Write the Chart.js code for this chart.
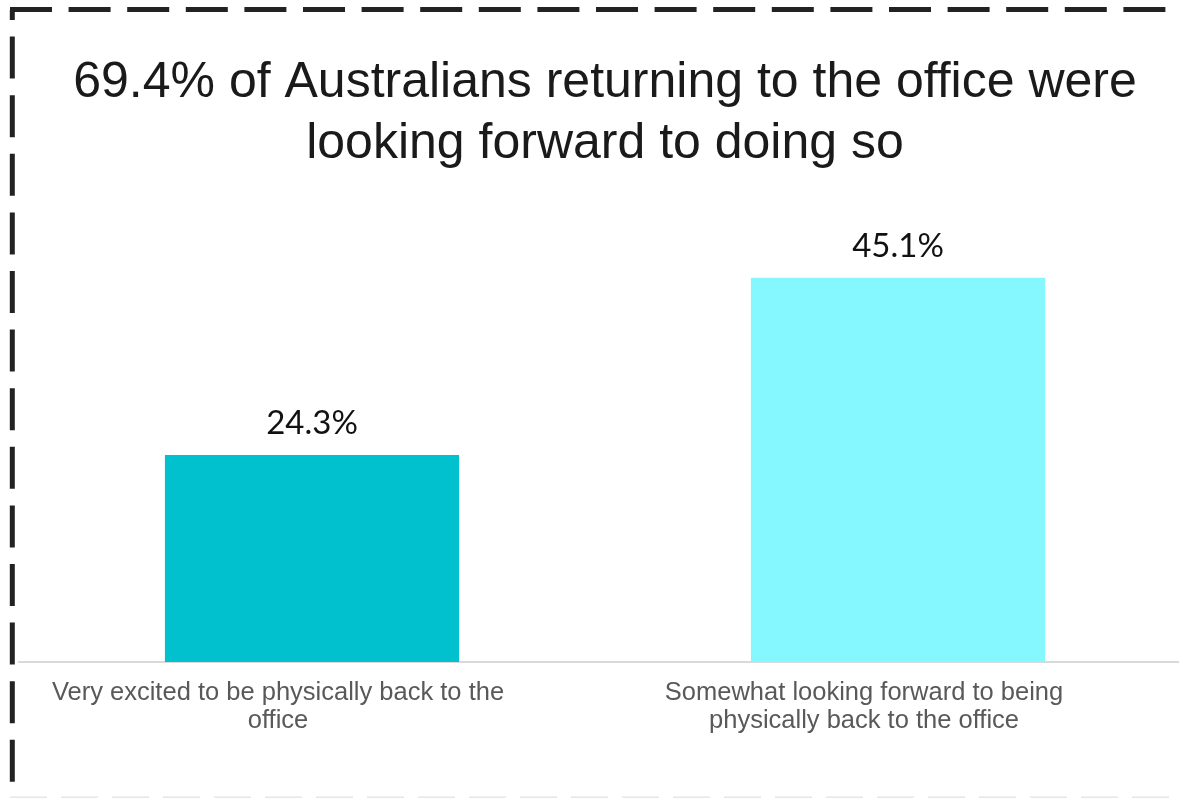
<!DOCTYPE html>
<html lang="en">
<head>
    <meta charset="UTF-8">
    <title>Returning to the office</title>
    <style>
        html, body {
            margin: 0;
            padding: 0;
            background: #ffffff;
            overflow: hidden;
        }
        #wrap {
            width: 1195px;
            height: 798px;
        }
    </style>
</head>
<body>
    <div id="wrap">
        <canvas id="chart" width="1195" height="798"></canvas>
    </div>

    <script src="https://cdn.jsdelivr.net/npm/chart.js"></script>
    <script>
        const titleLines = [
            '69.4% of Australians returning to the office were',
            'looking forward to doing so'
        ];
        const categories = [
            ['Very excited to be physically back to the', 'office'],
            ['Somewhat looking forward to being', 'physically back to the office']
        ];
        const shares = [24.3, 45.1];
        const barColors = ['#00C1CD', '#85F7FF'];

        // dashed frame round the picture
        const framePlugin = {
            id: 'frame',
            beforeDraw(chart) {
                const ctx = chart.ctx;
                ctx.save();
                ctx.fillStyle = '#ffffff';
                ctx.fillRect(0, 0, chart.width, chart.height);

                ctx.strokeStyle = '#222222';
                ctx.lineWidth = 5;
                ctx.setLineDash([42, 16.6]);
                ctx.beginPath();
                ctx.moveTo(10, 9.5);
                ctx.lineTo(chart.width, 9.5);
                ctx.stroke();

                ctx.lineDashOffset = 32;
                ctx.beginPath();
                ctx.moveTo(12.3, 10);
                ctx.lineTo(12.3, chart.height);
                ctx.stroke();

                ctx.lineDashOffset = 0;
                ctx.strokeStyle = '#e6e6e6';
                ctx.lineWidth = 2;
                ctx.setLineDash([37, 14]);
                ctx.beginPath();
                ctx.moveTo(10, 797.5);
                ctx.lineTo(chart.width, 797.5);
                ctx.stroke();
                ctx.restore();
            }
        };

        // percentage above each bar
        const valueLabels = {
            id: 'valueLabels',
            afterDatasetsDraw(chart) {
                const ctx = chart.ctx;
                const meta = chart.getDatasetMeta(0);
                ctx.save();
                ctx.font = '33px Lato, "Liberation Sans", sans-serif';
                ctx.fillStyle = '#111111';
                ctx.textAlign = 'center';
                ctx.textBaseline = 'alphabetic';
                meta.data.forEach((bar, i) => {
                    ctx.fillText(shares[i].toFixed(1) + '%', bar.x, bar.y - 21);
                });
                ctx.restore();
            }
        };

        new Chart(document.getElementById('chart').getContext('2d'), {
            type: 'bar',
            data: {
                labels: categories,
                datasets: [{
                    data: shares,
                    backgroundColor: barColors,
                    borderWidth: 0,
                    barPercentage: 1,
                    categoryPercentage: 0.502
                }]
            },
            options: {
                responsive: false,
                animation: false,
                layout: {
                    padding: { left: 19, right: 4, top: 0, bottom: 46 }
                },
                plugins: {
                    legend: { display: false },
                    tooltip: { enabled: false },
                    title: {
                        display: true,
                        text: titleLines,
                        color: '#1a1a1a',
                        font: { family: '"Liberation Sans", Arial, sans-serif', size: 50, weight: 'normal', lineHeight: 1.22 },
                        padding: { top: 53, bottom: 61 }
                    }
                },
                scales: {
                    x: {
                        grid: { display: false, drawTicks: false },
                        border: { display: true, color: '#d9d9d9', width: 2 },
                        ticks: {
                            color: '#595959',
                            font: { family: '"Liberation Sans", Arial, sans-serif', size: 25.5, lineHeight: 1.1 },
                            padding: 17,
                            labelOffset: -34,
                            maxRotation: 0,
                            autoSkip: false
                        }
                    },
                    y: {
                        display: false,
                        min: 0,
                        max: 50
                    }
                }
            },
            plugins: [framePlugin, valueLabels]
        });
    </script>
</body>
</html>
